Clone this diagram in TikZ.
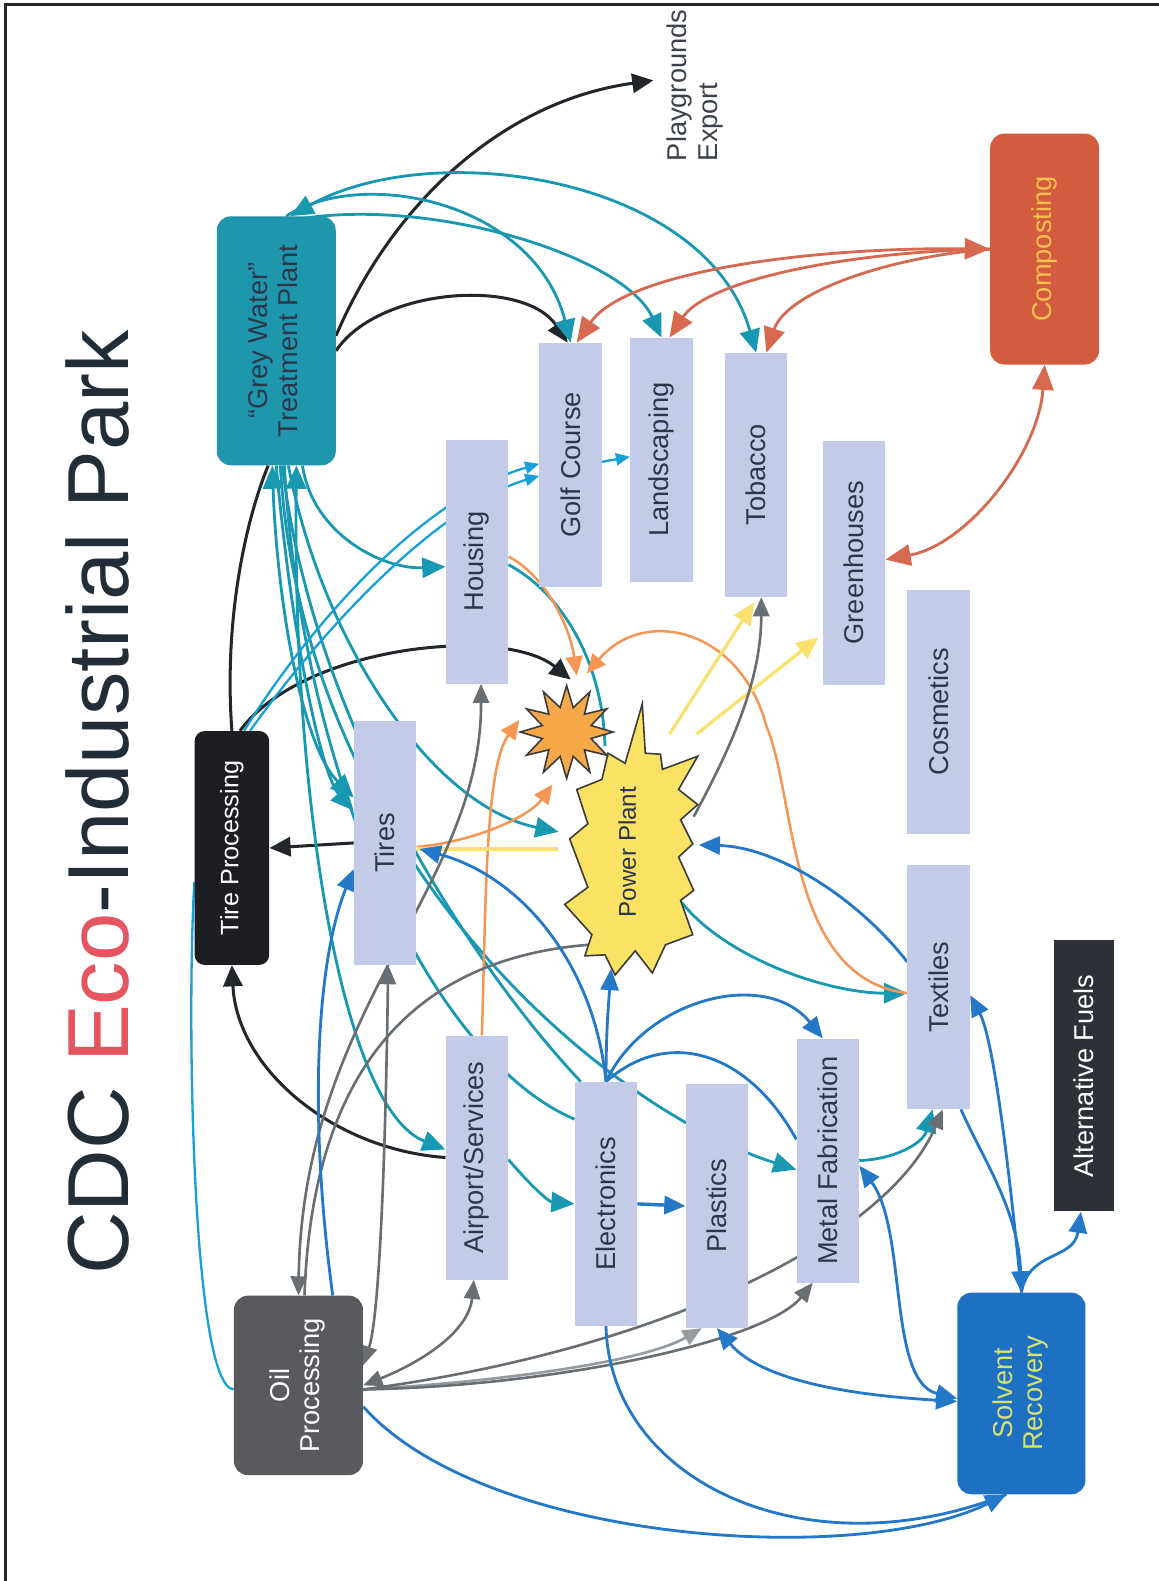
\documentclass[tikz,border=0pt]{standalone}
\usepackage{fontspec}
\setmainfont{Liberation Sans}
\usetikzlibrary{arrows.meta,calc}
\pgfdeclarelayer{paper}
\pgfdeclarelayer{links}
\pgfsetlayers{paper,links,main}

\definecolor{boxc}{RGB}{195,203,232}
\definecolor{boxtext}{RGB}{45,55,75}
\definecolor{gwc}{RGB}{30,150,172}
\definecolor{compc}{RGB}{212,92,62}
\definecolor{comptext}{RGB}{250,190,80}
\definecolor{tpc}{RGB}{28,30,34}
\definecolor{oilc}{RGB}{88,90,94}
\definecolor{solvc}{RGB}{30,112,195}
\definecolor{solvtext}{RGB}{215,225,110}
\definecolor{altc}{RGB}{45,48,54}
\definecolor{ppc}{RGB}{250,226,100}
\definecolor{sbc}{RGB}{245,168,72}
\definecolor{outl}{RGB}{60,60,60}
\definecolor{tealc}{RGB}{25,152,178}
\definecolor{cyanc}{RGB}{25,160,215}
\definecolor{bluec}{RGB}{35,120,200}
\definecolor{blkc}{RGB}{35,38,42}
\definecolor{greyc}{RGB}{105,110,115}
\definecolor{lgreyc}{RGB}{150,155,160}
\definecolor{orc}{RGB}{245,150,85}
\definecolor{redc}{RGB}{215,105,80}
\definecolor{yelc}{RGB}{250,225,110}
\definecolor{titlered}{RGB}{228,85,95}
\definecolor{titledark}{RGB}{35,45,55}

\tikzset{
  lbl/.style={font=\fontsize{27}{30}\selectfont, inner sep=0pt},
  unit/.style={lbl, fill=boxc, text=boxtext, minimum width=62pt, minimum height=242pt},
  hub/.style={lbl, rounded corners=14pt},
  tealw/.style={draw=tealc, line width=2.8pt, >={Triangle[length=23pt,width=20pt]}},
  cyanw/.style={draw=cyanc, line width=2.3pt, >={Triangle[length=14pt,width=12pt]}},
  bluew/.style={draw=bluec, line width=2.8pt, >={Triangle[length=21pt,width=18pt]}},
  blkw/.style={draw=blkc, line width=3pt, >={Triangle[length=21pt,width=19pt]}},
  greyw/.style={draw=greyc, line width=2.6pt, >={Triangle[length=19pt,width=16pt]}},
  lgreyw/.style={draw=lgreyc, line width=2.6pt, >={Triangle[length=19pt,width=16pt]}},
  orw/.style={draw=orc, line width=2.5pt, >={Triangle[length=19pt,width=17pt]}},
  redw/.style={draw=redc, line width=2.8pt, >={Triangle[length=25pt,width=21pt]}},
  yelw/.style={draw=yelc, line width=3.2pt, >={Triangle[length=22pt,width=19pt]}},
}

\begin{document}
\begin{tikzpicture}[x=1pt,y=-1pt]
\useasboundingbox (0,0) rectangle (1149,1568);
\begin{pgfonlayer}{paper}
\fill[white] (0,0) rectangle (1149,1568);
\end{pgfonlayer}

% frame
\draw[blkc, line width=3pt] (5,1568) -- (5,4) -- (1149,4);

% title
\node[inner sep=0pt, font=\fontsize{86}{90}\selectfont, text=titledark] (title) at (97,796)
  {\rotatebox{90}{CDC \textcolor{titlered}{Eco}-Industrial Park}};

% hubs
\node[hub, fill=gwc, text=boxtext, minimum width=118pt, minimum height=247pt] (gw) at (274,338)
  {\rotatebox{90}{\begin{tabular}{@{}c@{}}“Grey Water”\\Treatment Plant\end{tabular}}};
\node[hub, fill=compc, text=comptext, minimum width=108pt, minimum height=229pt] (comp) at (1036,247)
  {\rotatebox{90}{Composting}};
\node[hub, rounded corners=10pt, fill=tpc, text=white, font=\fontsize{25}{28}\selectfont, minimum width=74pt, minimum height=232pt] (tp) at (230,841)
  {\rotatebox{90}{Tire Processing}};
\node[hub, fill=oilc, text=white, minimum width=128pt, minimum height=178pt] (oil) at (296,1374)
  {\rotatebox{90}{\begin{tabular}{@{}c@{}}Oil\\Processing\end{tabular}}};
\node[hub, fill=solvc, text=solvtext, minimum width=127pt, minimum height=200pt] (solv) at (1013,1382)
  {\rotatebox{90}{\begin{tabular}{@{}c@{}}Solvent\\Recovery\end{tabular}}};
\node[lbl, fill=altc, text=white, minimum width=60pt, minimum height=269pt] (alt) at (1075,1067)
  {\rotatebox{90}{Alternative Fuels}};

% units
\node[unit] (golf)  at (566,461)  {\rotatebox{90}{Golf Course}};
\node[unit] (land)  at (656,456)  {\rotatebox{90}{Landscaping}};
\node[unit] (tob)   at (750,471)  {\rotatebox{90}{Tobacco}};
\node[unit] (hous)  at (473,557)  {\rotatebox{90}{Housing}};
\node[unit] (green) at (847,558)  {\rotatebox{90}{Greenhouses}};
\node[unit] (cosm)  at (931,706)  {\rotatebox{90}{Cosmetics}};
\node[unit] (tires) at (382,836)  {\rotatebox{90}{Tires}};
\node[unit] (text)  at (931,979)  {\rotatebox{90}{Textiles}};
\node[unit] (air)   at (473,1148) {\rotatebox{90}{Airport/Services}};
\node[unit] (elec)  at (601,1194) {\rotatebox{90}{Electronics}};
\node[unit] (plas)  at (711,1196) {\rotatebox{90}{Plastics}};
\node[unit] (metal) at (821,1151) {\rotatebox{90}{Metal Fabrication}};

% power plant burst
\draw[fill=ppc, draw=outl, line width=1.6pt, line join=miter]
  (637,698) -- (640,747) -- (655,748) -- (657,763) -- (692,750) -- (673,783) -- (692,798) -- (675,813)
  -- (687,837) -- (673,850) -- (688,883) -- (675,893) -- (687,927) -- (660,937) -- (647,965) -- (630,943)
  -- (610,967) -- (600,947) -- (580,948) -- (587,927) -- (560,897) -- (583,880) -- (565,832) -- (583,817)
  -- (572,783) -- (597,773) -- (603,747) -- (620,757) -- cycle;
\node[lbl, font=\fontsize{24}{27}\selectfont, text=boxtext] (pp) at (622,845) {\rotatebox{90}{Power Plant}};

% small burst
\coordinate (sb) at (562,726);
\draw[fill=sbc, draw=outl, line width=1.6pt, line join=miter]
  ($(sb)+(46,0)$) \foreach \i in {1,...,23} {
    -- ($(sb)+({ifthenelse(mod(\i,2)==0,46,25)*cos(\i*360/24)},{ifthenelse(mod(\i,2)==0,46,25)*sin(\i*360/24)})$)
  } -- cycle;

% export label
\begin{scope}
  \clip (5,6) rectangle (1149,1568);
  \node[lbl, anchor=south west, text={rgb,255:red,60;green,65;blue,75}] (play) at (660,160)
    {\rotatebox{90}{\begin{tabular}{@{}l@{}}Playgrounds\\Export\end{tabular}}};
\end{scope}

\begin{pgfonlayer}{links}
% black
\draw[blkw,->] ($(gw.east)+(0,10)$) .. controls (375,285) and (520,275) .. ($(golf.north)+(-3,0)$);
\draw[blkw,->] ($(gw.east)+(0,-5)$) .. controls (390,200) and (500,100) .. ($(play.west)+(-12,-5)$);
\draw[blkw] (tp.north) .. controls (222,620) and (242,520) .. ($(gw.south)+(-8,0)$);
\draw[blkw,->] ($(tp.north)+(8,0)$) .. controls (300,640) and (500,620) .. ($(sb)+(4,-52)$);
\draw[blkw,->] (tires.west) -- (tp.east);
\draw[blkw,->] (air.west) .. controls (330,1140) and (235,1060) .. (tp.south);

% teal
\draw[tealw,->] ($(gw.north)+(10,0)$) .. controls (360,165) and (530,200) .. (golf.north);
\draw[tealw,->] ($(gw.north)+(22,3)$) .. controls (430,195) and (620,255) .. (land.north);
\draw[tealw,<->] ($(gw.north)+(14,0)$) .. controls (430,135) and (700,175) .. (tob.north);
\draw[tealw,<->] ($(gw.south)+(-4,0)$) .. controls (275,600) and (300,740) .. ($(tires.west)+(0,-45)$);
\draw[tealw,->] (gw.south) .. controls (290,640) and (320,770) .. ($(tires.west)+(0,-32)$);
\draw[tealw,<->] ($(gw.south)+(20,0)$) .. controls (290,800) and (340,1100) .. ($(air.west)+(0,-8)$);
\draw[tealw] ($(gw.south)+(6,0)$) .. controls (310,720) and (470,960) .. ($(elec.north)+(-25,0)$);
\draw[tealw] ($(gw.south)+(8,0)$) .. controls (300,780) and (430,1050) .. ($(elec.west)+(0,-84)$);
\draw[tealw,->] ($(gw.south)+(12,0)$) .. controls (320,640) and (430,800) .. ($(pp)+(-68,-20)$);
\draw[tealw,->] ($(gw.south)+(4,0)$) .. controls (300,850) and (600,1100) .. ($(metal.west)+(0,9)$);
\draw[tealw,->] ($(gw.south)+(26,0)$) .. controls (310,530) and (380,565) .. ($(hous.west)+(0,5)$);
\draw[tealw] ($(hous.east)+(0,3)$) .. controls (560,590) and (598,660) .. ($(pp)+(-22,-105)$);
\draw[tealw,->] ($(pp)+(54,50)$) .. controls (720,950) and (820,985) .. ($(text.west)+(0,6)$);
\draw[tealw,->] (metal.east) .. controls (885,1150) and (915,1135) .. ($(text.south)+(-6,0)$);
\draw[tealw,->] ($(air.east)+(0,2)$) .. controls (530,1180) and (545,1192) .. (elec.west);

% cyan
\draw[cyanw,->] ($(tp.north)+(12,0)$) .. controls (320,600) and (430,490) .. ($(golf.west)+(0,-1)$);
\draw[cyanw,->] ($(tp.north)+(18,0)$) .. controls (330,610) and (440,500) .. ($(golf.west)+(0,11)$);
\draw[cyanw,->] ($(golf.east)+(0,-3)$) -- ($(land.west)+(0,-3)$);
\draw[cyanw] ($(oil.west)+(0,4)$) .. controls (190,1375) and (185,1000) .. ($(tp.west)+(0,34)$);

% orange
\draw[orw,->] ($(hous.east)+(0,-5)$) .. controls (540,570) and (565,620) .. ($(sb)+(10,-56)$);
\draw[orw,->] ($(text.west)+(0,6)$) .. controls (780,970) and (790,790) .. (760,720)
  .. controls (735,625) and (640,600) .. ($(sb)+(20,-58)$);
\draw[orw,->] ($(air.north)+(5,0)$) .. controls (482,880) and (482,760) .. ($(sb)+(-47,-12)$);
\draw[orw,->] ($(tires.east)+(0,4)$) .. controls (470,835) and (525,810) .. ($(sb)+(-14,52)$);

% yellow
\draw[yelw] ($(tires.east)+(0,6)$) -- ($(pp)+(-69,-3)$);
\draw[yelw,->] ($(pp)+(42,-117)$) -- ($(tob.south)+(-2,5)$);
\draw[yelw,->] ($(pp)+(69,-117)$) -- ($(green.west)+(-4,74)$);

% grey
\draw[greyw,->] ($(pp)+(66,-35)$) .. controls (720,750) and (755,680) .. ($(tob.south)+(5,0)$);
\draw[greyw,<->] ($(hous.south)+(4,0)$) .. controls (478,880) and (300,1000) .. (oil.north);
\draw[greyw] ($(pp)+(-38,92)$) .. controls (420,950) and (310,1050) .. ($(oil.north)+(6,0)$);
\draw[greyw,<->] ($(tires.south)+(3,0)$) .. controls (383,1100) and (378,1300) .. ($(oil.east)+(0,-20)$);
\draw[greyw,<->] (oil.east) .. controls (420,1350) and (465,1320) .. ($(air.south)+(-3,0)$);
\draw[lgreyw,->] ($(oil.east)+(0,4)$) .. controls (500,1370) and (640,1350) .. ($(plas.south)+(-15,0)$);
\draw[greyw,->] ($(oil.east)+(0,4)$) .. controls (550,1375) and (760,1330) .. ($(metal.south)+(-15,0)$);
\draw[greyw,->] ($(oil.east)+(0,4)$) .. controls (650,1340) and (880,1230) .. ($(text.south)+(4,0)$);

% blue
\draw[bluew,->] (elec.north) .. controls (601,1020) and (604,990) .. ($(pp)+(-16,116)$);
\draw[bluew,->] (elec.north) .. controls (590,960) and (520,870) .. ($(tires.east)+(3,6)$);
\draw[bluew,->] (elec.north) .. controls (640,990) and (760,960) .. ($(metal.north)+(-5,0)$);
\draw[bluew] (elec.north) .. controls (660,1020) and (740,1040) .. ($(metal.west)+(0,-21)$);
\draw[bluew,->,line width=3.4pt] (elec.east) -- (plas.west);
\draw[bluew,->] ($(text.west)+(0,-25)$) .. controls (850,890) and (770,840) .. ($(pp)+(71,-7)$);
\draw[bluew,->] (solv.north) .. controls (1000,1150) and (985,1030) .. ($(text.east)+(0,8)$);
\draw[bluew,->] ($(text.south)+(22,0)$) .. controls (975,1150) and (1010,1200) .. (solv.north);
\draw[bluew,->] (solv.north) .. controls (1020,1240) and (1065,1250) .. ($(alt.south)+(-3,0)$);
\draw[bluew,<->] ($(metal.east)+(0,5)$) .. controls (900,1220) and (880,1370) .. ($(solv.west)+(0,5)$);
\draw[bluew,<->] (plas.south) .. controls (760,1375) and (870,1385) .. ($(solv.west)+(0,8)$);
\draw[bluew,->] ($(oil.east)+(0,21)$) .. controls (480,1530) and (850,1555) .. ($(solv.south)+(-15,0)$);
\draw[bluew] (elec.south) .. controls (605,1470) and (800,1560) .. ($(solv.south)+(-15,0)$);
\draw[bluew,->] ($(oil.north)+(34,0)$) .. controls (305,1100) and (315,950) .. ($(tires.west)+(0,26)$);

% composting links
\draw[redw,<->] (comp.west) .. controls (800,245) and (620,270) .. ($(golf.north)+(6,0)$);
\draw[redw,->] (comp.west) .. controls (830,250) and (700,280) .. ($(land.north)+(8,0)$);
\draw[redw,->] (comp.west) .. controls (880,255) and (780,290) .. ($(tob.north)+(10,0)$);
\draw[redw,<->] (comp.south) .. controls (1030,450) and (960,540) .. ($(green.east)+(0,-3)$);
\end{pgfonlayer}
\end{tikzpicture}
\end{document}
